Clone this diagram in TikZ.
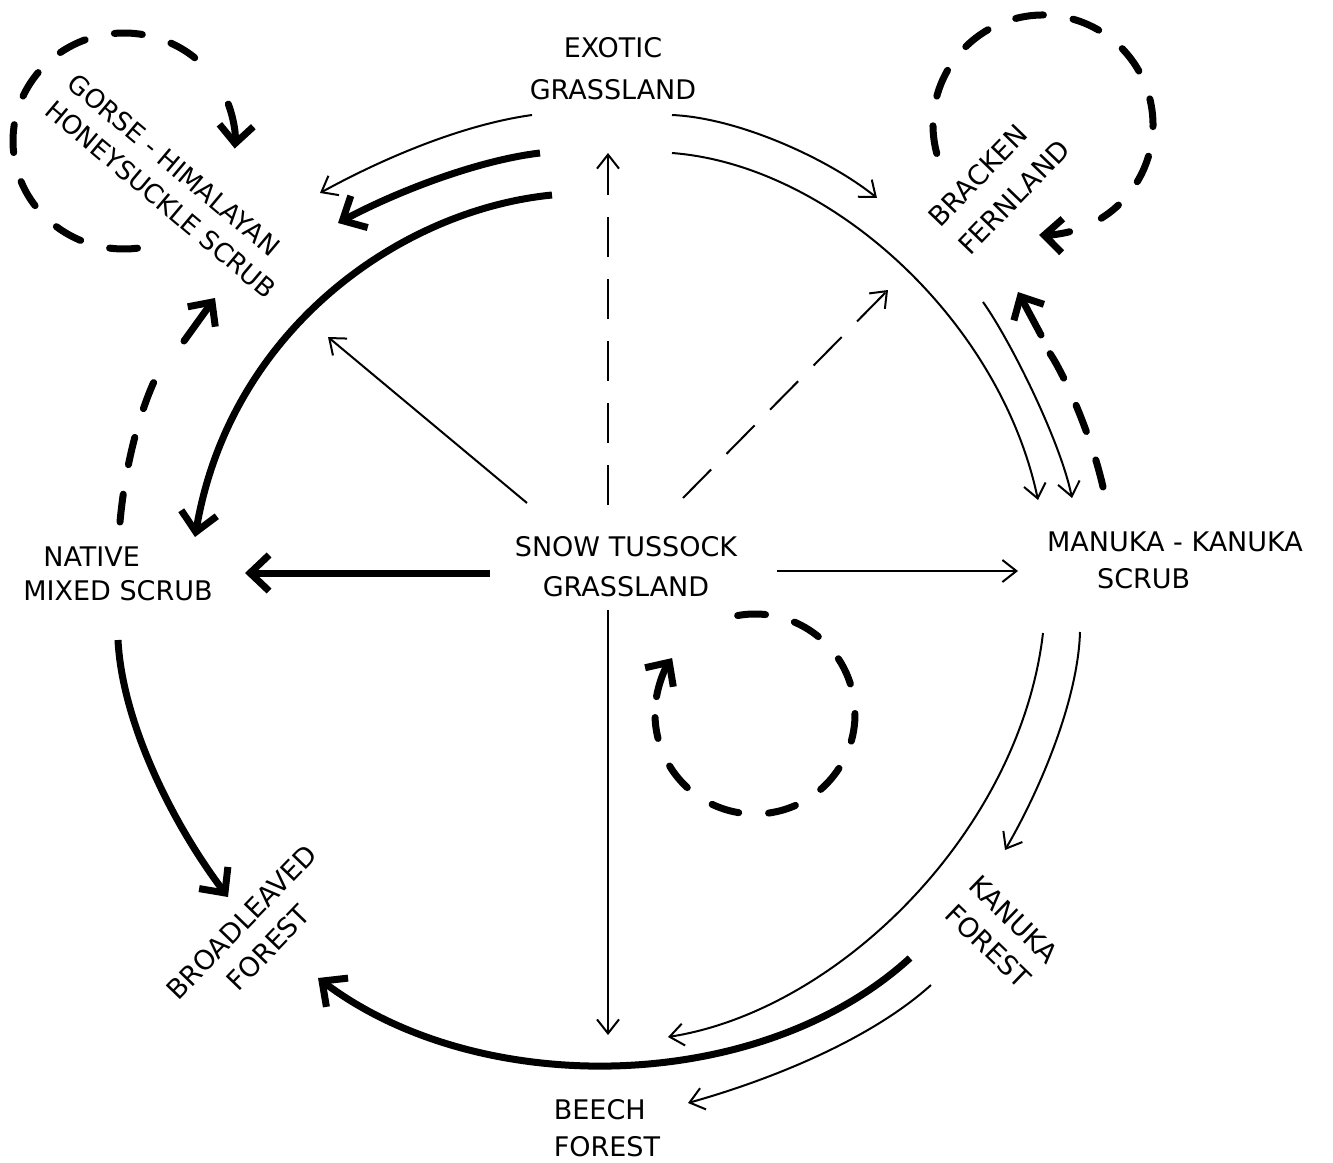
\documentclass[tikz,border=0pt]{standalone}
\usepackage{fontspec}
\setmainfont{DejaVu Sans}
\usetikzlibrary{arrows.meta,calc}
\begin{document}
\begin{tikzpicture}[x=1pt,y=-1pt,
  thinarr/.style={line width=2pt, -{Straight Barb[length=14pt,width=22pt]}},
  thickarr/.style={line width=7pt, -{Straight Barb[length=19pt,width=36pt]}},
  thindash/.style={thinarr, dash pattern=on 40pt off 22pt},
  thickdash/.style={line width=7pt, line cap=round, dash pattern=on 28pt off 30pt, -{Straight Barb[length=19pt,width=34pt]}},
  loopdash/.style={line width=7pt, line cap=round, dash pattern=on 28pt off 30pt},
  looptip/.style={line width=7pt, line cap=round, -{Straight Barb[length=18pt,width=34pt]}},
  lab/.style={inner sep=0pt, font=\fontsize{27}{40}\selectfont}]
\useasboundingbox (0,0) rectangle (1333,1162);
% nodes
\node[lab, align=center, font=\fontsize{27}{42}\selectfont] (exo) at (613,69) {EXOTIC\\GRASSLAND};
\node[lab, align=center] (snow) at (626,567) {SNOW TUSSOCK\\GRASSLAND};
\node[lab, align=left, font=\fontsize{27}{34}\selectfont] (nat) at (118,574) {\hspace*{20pt}NATIVE\\MIXED SCRUB};
\node[lab, align=left, font=\fontsize{27}{37}\selectfont] (man) at (1175,560) {MANUKA - KANUKA\\\hspace*{50pt}SCRUB};
\node[lab, align=left, font=\fontsize{27}{37}\selectfont] (beech) at (607,1128) {BEECH\\FOREST};
\node[lab, align=left, rotate=46, font=\fontsize{27}{41}\selectfont] (brack) at (999,183) {BRACKEN\\FERNLAND};
\node[lab, align=left, rotate=-40, font=\fontsize{26}{35}\selectfont] (gorse) at (172,186) {GORSE - HIMALAYAN\\HONEYSUCKLE SCRUB};
\node[lab, align=center, rotate=46, font=\fontsize{27}{37}\selectfont] (broad) at (255,935) {BROADLEAVED\\FOREST};
\node[lab, align=center, rotate=-44, font=\fontsize{27}{37}\selectfont] (kan) at (1001,933) {KANUKA\\FOREST};
% connectors from exotic grassland
\draw[thinarr] ($(exo)+(-81,46)$) .. controls (460,125) and (380,160) .. ($(gorse)+(148,7)$);
\draw[thickarr] ($(exo)+(-73,84)$) .. controls (480,160) and (400,190) .. ($(gorse)+(166,37)$);
\draw[thickarr] ($(exo)+(-61,126)$) .. controls (400,210) and (230,330) .. ($(nat)+(77,-37)$);
\draw[thinarr] ($(exo)+(59,46)$) .. controls (740,118) and (830,160) .. ($(brack)+(-122,15)$);
\draw[thinarr] ($(exo)+(59,84)$) .. controls (830,165) and (1000,320) .. ($(man)+(-137,-60)$);
% bracken / manuka
\draw[thinarr] ($(brack)+(-16,119)$) .. controls (1010,340) and (1060,440) .. ($(man)+(-103,-62)$);
\draw[loopdash] ($(man)+(-72,-73)$) .. controls (1090,430) and (1060,365) .. ($(brack)+(47,165)$);
\draw[looptip] ($(brack)+(42,152)$) -- ($(brack)+(19,109)$);
% self loops
\draw[loopdash] ($(brack)+(44,-58)+(165:110)$) arc[start angle=165,end angle=418,radius=110];
\draw[looptip] ($(brack)+(44,-58)+(436:110)$) arc[start angle=436,end angle=452,radius=110];
\draw[loopdash] ($(gorse)+(-48,-45)+(83:111 and 108)$) arc[start angle=83,end angle=322,x radius=111,y radius=108];
\draw[looptip] ($(gorse)+(-48,-45)+(340:111 and 108)$) arc[start angle=340,end angle=364,x radius=111,y radius=108];
\draw[loopdash] ($(snow)+(129,147)+(-100:100)$) arc[start angle=-100,end angle=178,radius=100];
\draw[looptip] ($(snow)+(129,147)+(190:100)$) arc[start angle=190,end angle=214,radius=100];
% native -> gorse
\draw[loopdash] ($(nat)+(2,-52)$) .. controls (126,455) and (145,395) .. ($(gorse)+(-10,180)$);
\draw[looptip] ($(gorse)+(12,155)$) -- ($(gorse)+(43,112)$);
% from snow tussock
\draw[thinarr] ($(snow)+(-99,-64)$) -- ($(gorse)+(156,151)$);
\draw[thindash] ($(snow)+(-18,-62)$) -- ($(exo)+(-5,84)$);
\draw[thindash] ($(snow)+(57,-69)$) -- ($(brack)+(-111,107)$);
\draw[thickarr] ($(snow)+(-136,6)$) -- ($(nat)+(127,-1)$);
\draw[thinarr] ($(snow)+(151,4)$) -- ($(man)+(-157,11)$);
\draw[thinarr] ($(snow)+(-18,43)$) -- ($(beech)+(1,-93)$);
% lower part
\draw[thickarr] ($(nat)+(0,66)$) .. controls (122,720) and (170,820) .. ($(broad)+(-27,-38)$);
\draw[thinarr] ($(man)+(-95,72)$) .. controls (1078,700) and (1040,790) .. ($(kan)+(4,-83)$);
\draw[thinarr] ($(man)+(-132,73)$) .. controls (1020,830) and (840,1010) .. ($(beech)+(61,-91)$);
\draw[thickarr] ($(kan)+(-91,25)$) .. controls (760,1095) and (480,1100) .. ($(broad)+(63,43)$);
\draw[thinarr] ($(kan)+(-70,52)$) .. controls (870,1040) and (770,1080) .. ($(beech)+(81,-25)$);
\end{tikzpicture}
\end{document}
